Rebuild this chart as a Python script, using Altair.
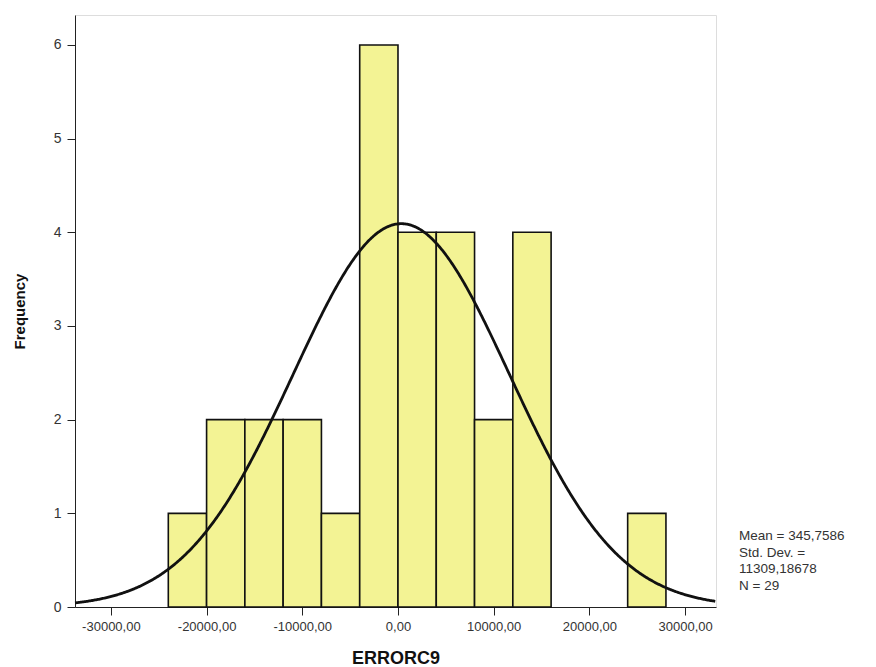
import altair as alt
import pandas as pd

# Histogram bins (lower edge, upper edge) and frequencies
bin_start = [-24000, -20000, -16000, -12000, -8000, -4000, 0, 4000, 8000, 12000, 24000]
bin_end = [-20000, -16000, -12000, -8000, -4000, 0, 4000, 8000, 12000, 16000, 28000]
counts = [1, 2, 2, 2, 1, 6, 4, 4, 2, 4, 1]

# Summary statistics shown on the chart
mean = 345.7586
sd = 11309.18678
n = 29
bin_width = 4000

x_min, x_max = -33750, 33230
x_ticks = [-30000, -20000, -10000, 0, 10000, 20000, 30000]
y_ticks = [0, 1, 2, 3, 4, 5, 6]
stats_lines = ["Mean = 345,7586", "Std. Dev. =", "11309,18678", "N = 29"]

FONT = "Liberation Sans"

df = pd.DataFrame({"start": bin_start, "end": bin_end, "count": counts})

x_scale = alt.Scale(domain=[x_min, x_max], nice=False, zero=False)
y_scale = alt.Scale(domain=[0, 6.32], nice=False)

x_axis = alt.Axis(
    values=x_ticks,
    labelExpr="(datum.value < 0 ? '-' : '') + replace(format(abs(datum.value), '.2f'), '.', ',')",
    grid=False, tickSize=8, tickColor="#222", domainColor="#222",
    labelFont=FONT, labelFontSize=13, labelColor="#333", labelPadding=5,
    title="ERRORC9", titleFont=FONT, titleFontSize=18, titleFontWeight="bold",
    titleColor="#111", titleBaseline="alphabetic", titleY=56,
)
y_axis = alt.Axis(
    values=y_ticks, format="d",
    grid=False, tickSize=8, tickColor="#222", domainColor="#222",
    labelFont=FONT, labelFontSize=14, labelColor="#333", labelPadding=6,
    title="Frequency", titleFont=FONT, titleFontSize=15, titleFontWeight="bold",
    titleColor="#111", titlePadding=26,
)

bars = alt.Chart(df).mark_rect(
    fill="#f3f394", stroke="#111", strokeWidth=1.6
).encode(
    x=alt.X("start:Q", scale=x_scale, axis=x_axis),
    x2="end:Q",
    y=alt.Y("count:Q", scale=y_scale, axis=y_axis),
    y2=alt.datum(0),
)

norm_expr = (
    f"{n * bin_width} / ({sd} * sqrt(2 * PI)) * "
    f"exp(-0.5 * pow((datum.xv - {mean}) / {sd}, 2))"
)
curve = alt.Chart(alt.sequence(x_min, x_max + 1, 100, as_="xv")).transform_calculate(
    yv=norm_expr
).mark_line(color="#111", strokeWidth=2.8).encode(
    x=alt.X("xv:Q", scale=x_scale, axis=x_axis),
    y=alt.Y("yv:Q", scale=y_scale, axis=y_axis),
)

stats_df = pd.DataFrame({"line": stats_lines, "i": list(range(len(stats_lines)))})
stats = alt.Chart(stats_df).mark_text(
    align="left", baseline="middle", font=FONT, fontSize=13.5, color="#333"
).encode(
    x=alt.value(664),
    y=alt.Y("i:Q", scale=alt.Scale(domain=[0, 3], range=[521, 571]), axis=None),
    text="line:N",
)

main = alt.layer(bars, curve).resolve_scale(y="shared")
chart = alt.layer(main, stats).resolve_scale(y="independent").properties(
    width=641, height=592,
    autosize=alt.AutoSizeParams(type="none"),
    padding={"left": 67, "top": 7, "right": 152, "bottom": 60},
).configure_view(stroke="#777", strokeWidth=1.2).configure(background="white")

chart.save("out.html", embed_options={"renderer": "svg", "actions": False})
